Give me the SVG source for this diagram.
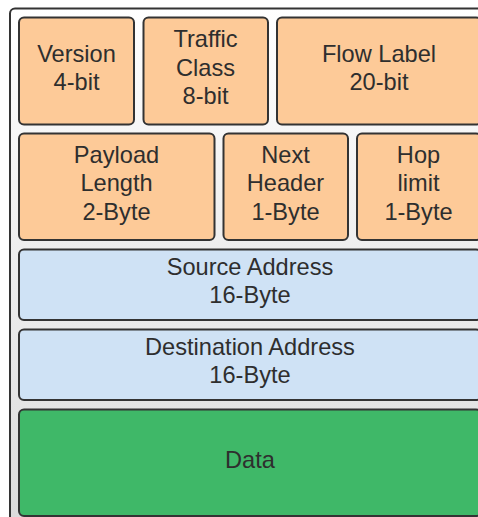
<svg xmlns="http://www.w3.org/2000/svg" width="478" height="517" viewBox="0 0 478 517">
  <defs>
    <linearGradient id="bg" gradientUnits="userSpaceOnUse" x1="0" y1="8" x2="0" y2="517">
      <stop offset="0" stop-color="#ffffff"/>
      <stop offset="1" stop-color="#dcdcdc"/>
    </linearGradient>
  </defs>
  <style>
    .box { stroke: #333333; stroke-width: 2; }
    .orange { fill: #fdca98; }
    .blue { fill: #cfe2f5; }
    .green { fill: #3fb868; }
    text { font-family: "Liberation Sans", Arial, sans-serif; font-size: 23.6px; fill: #2e2e2e; text-anchor: middle; }
  </style>
  <rect id="container" x="10" y="8.5" width="490" height="520" rx="5" fill="url(#bg)" stroke="#333333" stroke-width="2"/>
  <g id="version">
    <rect class="box orange" x="19" y="17.5" width="115" height="107" rx="5"/>
    <text x="76.5" y="62">Version</text>
    <text x="76.5" y="90">4-bit</text>
  </g>
  <g id="traffic-class">
    <rect class="box orange" x="143.5" y="17.5" width="124.5" height="107" rx="5"/>
    <text x="205.5" y="47">Traffic</text>
    <text x="205.5" y="75.5">Class</text>
    <text x="205.5" y="104">8-bit</text>
  </g>
  <g id="flow-label">
    <rect class="box orange" x="277" y="17.5" width="204" height="107" rx="5"/>
    <text x="379" y="62">Flow Label</text>
    <text x="379" y="90">20-bit</text>
  </g>
  <g id="payload-length">
    <rect class="box orange" x="19" y="133.5" width="195.5" height="106.5" rx="5"/>
    <text x="116.5" y="162.5">Payload</text>
    <text x="116.5" y="191">Length</text>
    <text x="116.5" y="219.5">2-Byte</text>
  </g>
  <g id="next-header">
    <rect class="box orange" x="223.5" y="133.5" width="124.5" height="106.5" rx="5"/>
    <text x="285.5" y="162.5">Next</text>
    <text x="285.5" y="191">Header</text>
    <text x="285.5" y="219.5">1-Byte</text>
  </g>
  <g id="hop-limit">
    <rect class="box orange" x="357" y="133.5" width="124" height="106.5" rx="5"/>
    <text x="418.5" y="162.5">Hop</text>
    <text x="418.5" y="191">limit</text>
    <text x="418.5" y="219.5">1-Byte</text>
  </g>
  <g id="source-address">
    <rect class="box blue" x="19" y="249.5" width="462" height="70.5" rx="5"/>
    <text x="250" y="274.5">Source Address</text>
    <text x="250" y="303">16-Byte</text>
  </g>
  <g id="destination-address">
    <rect class="box blue" x="19" y="329.5" width="462" height="70.5" rx="5"/>
    <text x="250" y="354.5">Destination Address</text>
    <text x="250" y="383">16-Byte</text>
  </g>
  <g id="data">
    <rect class="box green" x="19" y="409.5" width="462" height="106.5" rx="5"/>
    <text x="250" y="467.5">Data</text>
  </g>
  <g id="connectors"/>
</svg>
